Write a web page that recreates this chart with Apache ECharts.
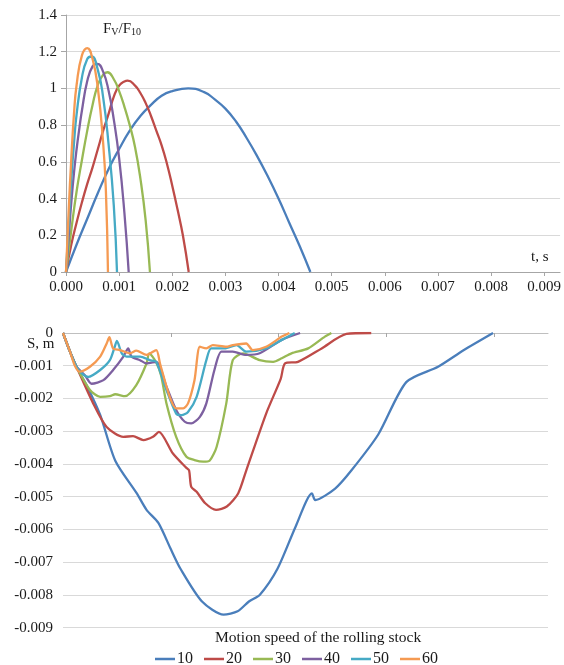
<!DOCTYPE html>
<html>
<head>
<meta charset="utf-8">
<script src="https://cdn.jsdelivr.net/npm/echarts@6/dist/echarts.min.js"></script>
<style>
html,body{margin:0;padding:0;background:#fff;}
#c{width:564px;height:665px;}
</style>
</head>
<body>
<div id="c"></div>
<script>
// ---- data ----
var seriesNames = ['10', '20', '30', '40', '50', '60'];
var colors = ['#4A7EBB', '#BE4B48', '#98B954', '#7D60A0', '#46AAC5', '#F59A52'];

var topTimeTicks = [0, 0.001, 0.002, 0.003, 0.004, 0.005, 0.006, 0.007, 0.008, 0.009];
var bottomTimeTicks = [0.002, 0.004, 0.006, 0.008];

// F_V/F_10 vs t, s
var force10 = [[0,0],[0.0002,0.15],[0.0004,0.29],[0.0006,0.43],[0.0008,0.56],[0.001,0.67],[0.0012,0.77],[0.0014,0.85],[0.0016,0.91],[0.0018,0.96],[0.002,0.985],[0.0023,1.0],[0.0026,0.98],[0.0028,0.94],[0.003,0.89],[0.0032,0.82],[0.0034,0.73],[0.0036,0.63],[0.0038,0.52],[0.004,0.40],[0.0042,0.27],[0.0044,0.14],[0.0046,0]];
var force20 = [[0,0],[0.0001,0.15],[0.0002,0.27],[0.0003,0.38],[0.0004,0.48],[0.0005,0.57],[0.0006,0.67],[0.0007,0.77],[0.0008,0.86],[0.0009,0.955],[0.001,1.015],[0.0011,1.038],[0.00116,1.042],[0.0013,1.015],[0.0014,0.975],[0.0015,0.92],[0.0016,0.85],[0.0017,0.77],[0.0018,0.69],[0.0019,0.59],[0.002,0.47],[0.0021,0.34],[0.0022,0.2],[0.00231,0]];
var force30 = [[0,0],[0.0001,0.23],[0.0002,0.44],[0.0003,0.61],[0.0004,0.77],[0.0005,0.91],[0.0006,1.02],[0.0007,1.075],[0.00078,1.088],[0.0009,1.05],[0.001,0.985],[0.0011,0.9],[0.0012,0.8],[0.0013,0.68],[0.0014,0.51],[0.0015,0.28],[0.00158,0]];
var force40 = [[0,0],[0.00005,0.19],[0.0001,0.38],[0.00015,0.54],[0.0002,0.67],[0.00025,0.78],[0.0003,0.88],[0.0004,1.04],[0.0005,1.12],[0.00059,1.134],[0.0007,1.09],[0.0008,0.99],[0.0009,0.83],[0.001,0.62],[0.0011,0.32],[0.00118,0]];
var force50 = [[0,0],[0.00005,0.26],[0.0001,0.5],[0.00015,0.7],[0.0002,0.86],[0.0003,1.06],[0.0004,1.16],[0.00048,1.174],[0.0006,1.1],[0.0007,0.95],[0.0008,0.7],[0.0009,0.36],[0.00096,0]];
var force60 = [[0,0],[0.00005,0.33],[0.0001,0.62],[0.00015,0.86],[0.0002,1.02],[0.0003,1.18],[0.0004,1.22],[0.0005,1.16],[0.0006,1.0],[0.0007,0.7],[0.00075,0.45],[0.00079,0]];

// S, m vs t
var disp10 = [[0,0],[0.00013,-0.00057],[0.00025,-0.00103],[0.00044,-0.0016],[0.00069,-0.0025],[0.00097,-0.0039],[0.00137,-0.0049],[0.00155,-0.0054],[0.00177,-0.0058],[0.002,-0.0066],[0.00218,-0.0072],[0.00258,-0.0082],[0.00298,-0.0086],[0.00324,-0.0085],[0.00345,-0.0082],[0.00365,-0.0080],[0.00398,-0.0072],[0.00432,-0.0059],[0.00462,-0.0049],[0.00468,-0.0051],[0.00505,-0.00475],[0.00535,-0.0042],[0.00585,-0.0031],[0.00637,-0.0015],[0.00696,-0.00103],[0.00744,-0.00052],[0.00798,0]];
var disp20 = [[0,0],[0.00013,-0.00057],[0.00025,-0.00103],[0.00056,-0.00215],[0.00081,-0.00287],[0.00112,-0.00317],[0.0013,-0.00315],[0.00149,-0.00327],[0.00167,-0.00317],[0.00178,-0.00302],[0.00204,-0.00368],[0.00229,-0.00412],[0.00234,-0.0042],[0.00238,-0.0047],[0.00248,-0.00485],[0.00264,-0.0052],[0.00284,-0.0054],[0.00304,-0.0053],[0.00325,-0.0049],[0.0034,-0.0042],[0.00377,-0.00246],[0.00404,-0.0014],[0.00412,-0.00093],[0.00436,-0.00088],[0.0048,-0.00047],[0.00526,-0.00003],[0.00572,0]];
var disp30 = [[0,0],[0.00013,-0.00057],[0.00025,-0.00103],[0.0005,-0.00174],[0.00069,-0.00195],[0.00087,-0.00193],[0.00097,-0.00187],[0.00115,-0.00193],[0.00136,-0.00159],[0.00155,-0.00093],[0.0016,-0.00062],[0.00173,-0.0009],[0.00182,-0.0013],[0.00192,-0.00215],[0.0021,-0.00317],[0.00229,-0.00378],[0.00244,-0.00388],[0.0026,-0.00393],[0.00272,-0.0039],[0.00285,-0.00348],[0.00303,-0.00215],[0.00315,-0.00083],[0.00334,-0.00062],[0.00365,-0.00083],[0.0039,-0.00088],[0.00406,-0.00077],[0.00424,-0.00062],[0.00455,-0.00047],[0.00486,-0.00011],[0.00498,0]];
var disp40 = [[0,0],[0.00013,-0.00057],[0.00025,-0.00103],[0.00041,-0.0013],[0.00053,-0.00155],[0.00075,-0.00144],[0.00093,-0.00113],[0.00112,-0.00072],[0.00121,-0.00047],[0.00127,-0.00072],[0.00143,-0.00083],[0.00155,-0.00093],[0.00173,-0.00088],[0.00192,-0.00164],[0.0021,-0.00235],[0.00226,-0.00271],[0.00238,-0.00276],[0.00254,-0.00256],[0.00266,-0.00215],[0.00281,-0.00113],[0.00294,-0.00057],[0.00315,-0.00057],[0.0034,-0.00067],[0.00365,-0.00062],[0.00406,-0.00021],[0.0044,0]];
var disp50 = [[0,0],[0.00013,-0.00057],[0.00025,-0.00103],[0.00035,-0.00123],[0.00047,-0.00134],[0.00069,-0.00113],[0.00087,-0.00083],[0.00096,-0.00042],[0.001,-0.00024],[0.00109,-0.00062],[0.00118,-0.00072],[0.00143,-0.00072],[0.00161,-0.00083],[0.00173,-0.00088],[0.00192,-0.00174],[0.0021,-0.00246],[0.0022,-0.00251],[0.00232,-0.00241],[0.00248,-0.00195],[0.00266,-0.00083],[0.00275,-0.00047],[0.003,-0.00047],[0.00322,-0.00037],[0.0034,-0.00057],[0.00377,-0.00047],[0.00406,-0.00021],[0.0043,0]];
var disp60 = [[0,0],[0.00013,-0.00057],[0.00022,-0.001],[0.00031,-0.00118],[0.0005,-0.00103],[0.00069,-0.00072],[0.00081,-0.00032],[0.00086,-0.00013],[0.00093,-0.00047],[0.00106,-0.00052],[0.00124,-0.00062],[0.00136,-0.00054],[0.00155,-0.00067],[0.00173,-0.00052],[0.0018,-0.00093],[0.00198,-0.00195],[0.0021,-0.0023],[0.00223,-0.0023],[0.00232,-0.00215],[0.00244,-0.00144],[0.00254,-0.00042],[0.00266,-0.00047],[0.00278,-0.00037],[0.00303,-0.00042],[0.00315,-0.00037],[0.0034,-0.00032],[0.00352,-0.00052],[0.00377,-0.00042],[0.00406,-0.00011],[0.0042,0]];

var forceData = [force10, force20, force30, force40, force50, force60];
var dispData = [disp10, disp20, disp30, disp40, disp50, disp60];

// ---- chart ----
var FONT = '"Liberation Serif", "Times New Roman", serif';
var TXT = '#1a1a1a';
var chart = echarts.init(document.getElementById('c'), null, {renderer: 'canvas'});

var series = [];
forceData.forEach(function (d, i) {
  series.push({
    name: seriesNames[i], type: 'line', xAxisIndex: 0, yAxisIndex: 0,
    data: d, smooth: true, showSymbol: false, symbol: 'none',
    lineStyle: {width: 2.3, color: colors[i]}, itemStyle: {color: colors[i]},
    silent: true, animation: false
  });
});
dispData.forEach(function (d, i) {
  series.push({
    name: seriesNames[i], type: 'line', xAxisIndex: 1, yAxisIndex: 1,
    data: d, smooth: 0.25, showSymbol: false, symbol: 'none',
    lineStyle: {width: 2.3, color: colors[i]}, itemStyle: {color: colors[i]},
    silent: true, animation: false
  });
});

var option = {
  backgroundColor: '#fff',
  animation: false,
  grid: [
    {left: 66, top: 15, width: 496, height: 257},
    {left: 63, top: 333, width: 485, height: 294.7}
  ],
  xAxis: [
    {
      type: 'value', gridIndex: 0, min: 0, max: 0.0093,
      splitLine: {show: false},
      axisLine: {show: true, onZero: false, lineStyle: {color: '#a6a6a6', width: 1}},
      axisTick: {show: true, length: 4, lineStyle: {color: '#a6a6a6'}, customValues: topTimeTicks},
      axisLabel: {
        show: true, customValues: topTimeTicks, margin: 8,
        fontFamily: FONT, fontSize: 15, color: TXT,
        formatter: function (v) { return v.toFixed(3); }
      }
    },
    {
      type: 'value', gridIndex: 1, min: 0, max: 0.009, position: 'top',
      splitLine: {show: false},
      axisLine: {show: true, onZero: false, lineStyle: {color: '#bfbfbf', width: 1}},
      axisTick: {show: true, inside: true, length: 4, lineStyle: {color: '#a6a6a6'}, customValues: bottomTimeTicks},
      axisLabel: {show: false}
    }
  ],
  yAxis: [
    {
      type: 'value', gridIndex: 0, min: 0, max: 1.4, interval: 0.2,
      splitLine: {show: true, lineStyle: {color: '#d9d9d9', width: 1.2}},
      axisLine: {show: true, lineStyle: {color: '#a6a6a6', width: 1}},
      axisTick: {show: true, length: 5, lineStyle: {color: '#a6a6a6'}},
      axisLabel: {
        fontFamily: FONT, fontSize: 15, color: TXT, margin: 9,
        formatter: function (v) { return String(+v.toFixed(1)); }
      }
    },
    {
      type: 'value', gridIndex: 1, min: -0.009, max: 0, interval: 0.001,
      splitLine: {show: true, lineStyle: {color: '#d9d9d9', width: 1.2}},
      axisLine: {show: false},
      axisTick: {show: false},
      axisLabel: {
        fontFamily: FONT, fontSize: 15, color: TXT, margin: 10,
        formatter: function (v) { return Math.abs(v) < 1e-9 ? '0' : v.toFixed(3); }
      }
    }
  ],
  legend: {
    data: seriesNames,
    left: 150, top: 646,
    icon: 'rect', itemWidth: 20, itemHeight: 2.5, itemGap: 11,
    textStyle: {fontFamily: FONT, fontSize: 16, color: TXT, padding: [0, 0, 0, -3]},
    selectedMode: false
  },
  graphic: [
    {
      type: 'text', left: 103, top: 22, silent: true,
      style: {
        text: '{a|F}{s|V}{a|/F}{s|10}',
        rich: {
          a: {fontFamily: FONT, fontSize: 15, fill: TXT},
          s: {fontFamily: FONT, fontSize: 10, fill: TXT, verticalAlign: 'bottom', padding: [6, 0, 0, 0]}
        }
      }
    },
    {
      type: 'text', left: 531, top: 250, silent: true,
      style: {text: 't, s', fontFamily: FONT, fontSize: 15, fill: TXT}
    },
    {
      type: 'text', left: 27, top: 337, silent: true,
      style: {text: 'S, m', fontFamily: FONT, fontSize: 15, fill: TXT}
    },
    {
      type: 'text', left: 215, top: 630, silent: true,
      style: {text: 'Motion speed of the rolling stock', fontFamily: FONT, fontSize: 15.5, fill: TXT}
    }
  ],
  series: series
};
chart.setOption(option);
</script>
</body>
</html>
